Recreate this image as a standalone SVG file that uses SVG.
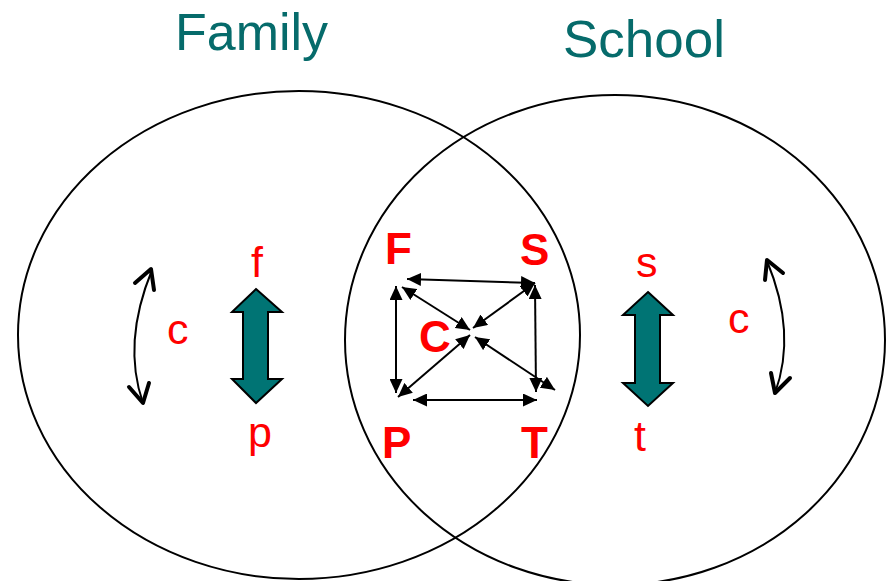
<svg xmlns="http://www.w3.org/2000/svg" width="886" height="581" viewBox="0 0 886 581">
<style>
.title{font-family:"Liberation Sans",Arial,sans-serif;font-size:52px;fill:#066b6b}
.big{font-family:"Liberation Sans",Arial,sans-serif;font-size:44px;font-weight:bold;fill:#ff0000}
.lbl{font-family:"Liberation Sans",Arial,sans-serif;font-size:43px;fill:#ff0000}
.circ{fill:none;stroke:#000;stroke-width:2}
.conn{fill:none;stroke:#000;stroke-width:2;marker-start:url(#tri);marker-end:url(#tri)}
.block{fill:#007474;stroke:#000;stroke-width:2;stroke-linejoin:miter}
.curve{fill:none;stroke:#000;stroke-width:2}
.chev{fill:none;stroke:#000;stroke-width:4;stroke-linecap:round;stroke-linejoin:round}
</style>
<defs>
<marker id="tri" viewBox="0 0 14 13" refX="14" refY="6.5" markerWidth="14" markerHeight="13" markerUnits="userSpaceOnUse" orient="auto-start-reverse">
<path d="M0,0 L14,6.5 L0,13 z" fill="#000"/>
</marker>
</defs>
<rect width="886" height="581" fill="#fff"/>
<g id="family">
<ellipse class="circ" cx="299" cy="335" rx="281" ry="244"/>
<text class="title" x="175" y="50" textLength="153" lengthAdjust="spacingAndGlyphs">Family</text>
</g>
<g id="school">
<ellipse class="circ" cx="615" cy="340" rx="270" ry="245"/>
<text class="title" x="563" y="57" textLength="162" lengthAdjust="spacingAndGlyphs">School</text>
</g>
<g id="node-F"><text class="big" x="385" y="264">F</text></g>
<g id="node-S"><text class="big" x="520" y="265">S</text></g>
<g id="node-C"><text class="big" x="419" y="352">C</text></g>
<g id="node-P"><text class="big" x="382" y="458">P</text></g>
<g id="node-T"><text class="big" x="521" y="458">T</text></g>
<g id="family-parts">
<text class="lbl" x="251" y="277">f</text>
<text class="lbl" x="167" y="344">c</text>
<text class="lbl" x="248" y="447">p</text>
<polygon class="block" points="256,289 282,312 268,312 268,379 282,379 256,403 232,379 243,379 243,312 232,312"/>
<path class="curve" d="M152,270 Q122,343 143,403"/>
<polyline class="chev" points="135,283 151,269 154,290"/>
<polyline class="chev" points="129,387 143,403 149,383"/>
</g>
<g id="school-parts">
<text class="lbl" x="636" y="277">s</text>
<text class="lbl" x="728" y="333">c</text>
<text class="lbl" x="634" y="451">t</text>
<polygon class="block" points="648,292 673,315 660,315 660,383 673,383 648,406 623,383 635,383 635,315 623,315"/>
<path class="curve" d="M767,261 Q797,333 775,393"/>
<polyline class="chev" points="765,280 767,260 783,273"/>
<polyline class="chev" points="771,373 775,393 790,378"/>
</g>
<g id="connectors">
<line class="conn" x1="407" y1="279" x2="535" y2="283"/>
<line class="conn" x1="396" y1="286" x2="396" y2="393"/>
<line class="conn" x1="413" y1="400" x2="537" y2="400"/>
<line class="conn" x1="535" y1="285" x2="536" y2="392"/>
<line class="conn" x1="402" y1="287" x2="470" y2="330"/>
<line class="conn" x1="535" y1="283" x2="473" y2="328"/>
<line class="conn" x1="398" y1="397" x2="470" y2="335"/>
<line class="conn" x1="555" y1="390" x2="475" y2="337"/>
</g>
</svg>
